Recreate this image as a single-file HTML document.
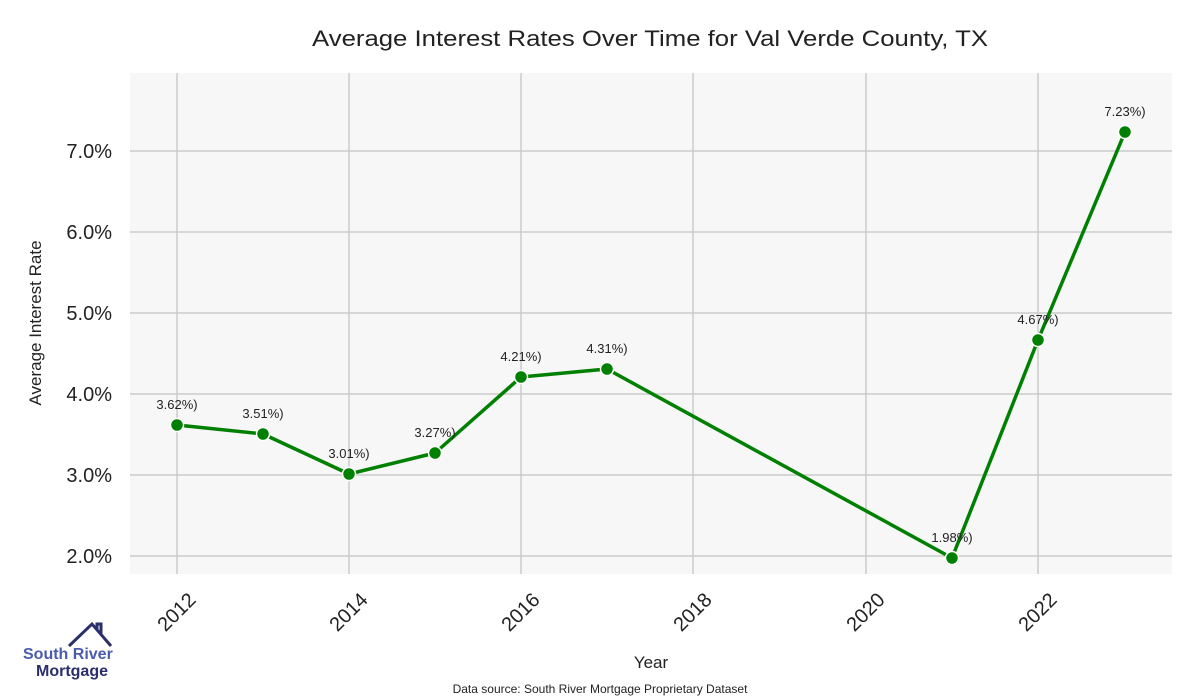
<!DOCTYPE html>
<html><head><meta charset="utf-8"><style>body{margin:0;background:#fff}svg{display:block;font-family:"Liberation Sans",sans-serif}</style></head><body>
<svg width="1200" height="700" xmlns="http://www.w3.org/2000/svg">
<rect width="1200" height="700" fill="#fff"/>
<rect x="130" y="73" width="1042" height="501" fill="#f7f7f7"/>
<g stroke="#cccccc" stroke-width="1.5">
<line x1="177" y1="73" x2="177" y2="574"/><line x1="349" y1="73" x2="349" y2="574"/><line x1="521" y1="73" x2="521" y2="574"/><line x1="693" y1="73" x2="693" y2="574"/><line x1="866" y1="73" x2="866" y2="574"/><line x1="1038" y1="73" x2="1038" y2="574"/>
<line x1="130" y1="151" x2="1172" y2="151"/><line x1="130" y1="232" x2="1172" y2="232"/><line x1="130" y1="313" x2="1172" y2="313"/><line x1="130" y1="394" x2="1172" y2="394"/><line x1="130" y1="475" x2="1172" y2="475"/><line x1="130" y1="556" x2="1172" y2="556"/>
</g>
<text x="650" y="46" text-anchor="middle" font-size="22" fill="#222" textLength="676" lengthAdjust="spacingAndGlyphs">Average Interest Rates Over Time for Val Verde County, TX</text>
<g font-size="20" fill="#222" text-anchor="end">
<text x="112" y="158">7.0%</text><text x="112" y="239">6.0%</text><text x="112" y="320">5.0%</text><text x="112" y="401">4.0%</text><text x="112" y="482">3.0%</text><text x="112" y="563">2.0%</text>
</g>
<text transform="translate(41,323) rotate(-90)" text-anchor="middle" font-size="17" fill="#222">Average Interest Rate</text>
<g font-size="20" fill="#222" text-anchor="end">
<text transform="translate(197,601) rotate(-45)">2012</text>
<text transform="translate(369,601) rotate(-45)">2014</text>
<text transform="translate(541,601) rotate(-45)">2016</text>
<text transform="translate(713,601) rotate(-45)">2018</text>
<text transform="translate(886,601) rotate(-45)">2020</text>
<text transform="translate(1058,601) rotate(-45)">2022</text>
</g>
<text x="651" y="668" text-anchor="middle" font-size="17" fill="#222">Year</text>
<text x="600" y="693" text-anchor="middle" font-size="12" fill="#222">Data source: South River Mortgage Proprietary Dataset</text>
<polyline fill="none" stroke="#008000" stroke-width="3.5" stroke-linejoin="round" points="177,425 263,434 349,474 435,453 521,377 607,369 952,558 1038,340 1125,132"/>
<g fill="#008000" stroke="#fff" stroke-width="1.5">
<circle cx="177" cy="425" r="6.5"/><circle cx="263" cy="434" r="6.5"/><circle cx="349" cy="474" r="6.5"/><circle cx="435" cy="453" r="6.5"/><circle cx="521" cy="377" r="6.5"/><circle cx="607" cy="369" r="6.5"/><circle cx="952" cy="558" r="6.5"/><circle cx="1038" cy="340" r="6.5"/><circle cx="1125" cy="132" r="6.5"/>
</g>
<g font-size="13" fill="#222" text-anchor="middle">
<text x="177" y="409">3.62%)</text><text x="263" y="418">3.51%)</text><text x="349" y="458">3.01%)</text><text x="435" y="437">3.27%)</text><text x="521" y="361">4.21%)</text><text x="607" y="353">4.31%)</text><text x="952" y="542">1.98%)</text><text x="1038" y="324">4.67%)</text><text x="1125" y="116">7.23%)</text>
</g>
<polyline fill="none" stroke="#2b2f6b" stroke-width="3" points="69,646 92,624 111,646"/>
<polyline fill="none" stroke="#2b2f6b" stroke-width="3" points="97,630 97,624 101,624 101,634"/>
<text x="23" y="659" font-size="16" font-weight="bold" fill="#4a5cad">South River</text>
<text x="36" y="676" font-size="16" font-weight="bold" fill="#2b2f6b">Mortgage</text>
</svg>
</body></html>
